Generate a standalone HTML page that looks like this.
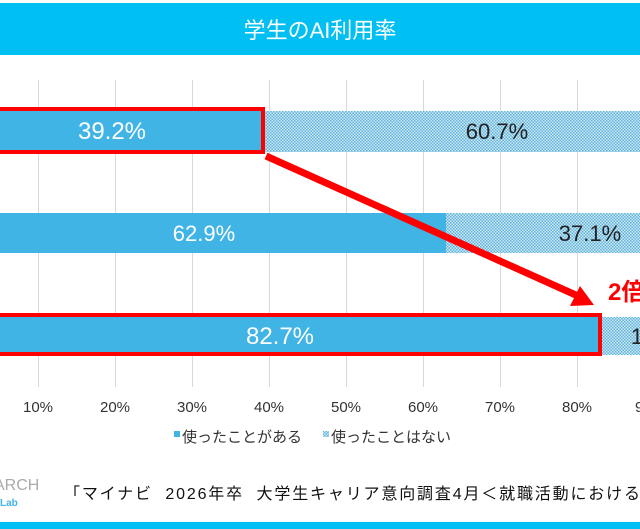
<!DOCTYPE html>
<html><head><meta charset="utf-8"><style>
body{margin:0;width:640px;height:529px;background:#fff;overflow:hidden;position:relative;font-family:"Liberation Sans","Noto Sans CJK JP",sans-serif}
.a{position:absolute}
</style></head><body>
<svg class="a" style="left:0;top:0" width="640" height="529" xmlns="http://www.w3.org/2000/svg">
<defs>
<pattern id="h" width="3" height="3" patternUnits="userSpaceOnUse">
<rect width="3" height="3" fill="#cfe8f4"/><rect width="1.5" height="1.5" fill="#5fb3dc"/><rect x="1.5" y="1.5" width="1.5" height="1.5" fill="#5fb3dc"/>
</pattern>
</defs>
<rect x="0" y="3" width="640" height="52" fill="#00bff3"/>
<text x="320" y="38" fill="#fff" font-size="22" text-anchor="middle">学生のAI利用率</text>
<g stroke="#d9d9d9" stroke-width="1">
<line x1="38.5" y1="80" x2="38.5" y2="387"/><line x1="115.5" y1="80" x2="115.5" y2="387"/><line x1="192.5" y1="80" x2="192.5" y2="387"/><line x1="269.5" y1="80" x2="269.5" y2="387"/><line x1="346.5" y1="80" x2="346.5" y2="387"/><line x1="423.5" y1="80" x2="423.5" y2="387"/><line x1="500.5" y1="80" x2="500.5" y2="387"/><line x1="577.5" y1="80" x2="577.5" y2="387"/>
</g>
<rect x="0" y="111" width="263" height="41" fill="#41b4e6"/><rect x="263" y="111" width="377" height="41" fill="url(#h)"/>
<rect x="0" y="213" width="446" height="40" fill="#41b4e6"/><rect x="446" y="213" width="194" height="40" fill="url(#h)"/>
<rect x="0" y="317" width="600" height="38" fill="#41b4e6"/><rect x="600" y="317" width="40" height="38" fill="url(#h)"/>
<rect x="-5" y="109" width="268" height="43" fill="none" stroke="#f00" stroke-width="4"/>
<rect x="-5" y="315" width="605" height="39" fill="none" stroke="#f00" stroke-width="4"/>
<line x1="266" y1="156" x2="578" y2="296" stroke="#f00" stroke-width="7"/>
<polygon points="594,305 570,306 580,286" fill="#f00"/>
<g font-size="22" text-anchor="middle">
<text x="112" y="139" fill="#fff" font-size="24">39.2%</text>
<text x="497" y="139" fill="#222">60.7%</text>
<text x="204" y="241" fill="#fff">62.9%</text>
<text x="590" y="241" fill="#222">37.1%</text>
<text x="280" y="344" fill="#fff" font-size="24">82.7%</text>
<text x="637" y="344" fill="#222">1</text>
</g>
<text x="608" y="300" fill="#f00" font-size="24" font-weight="bold">2倍</text>
<g font-size="15" fill="#333" text-anchor="middle">
<text x="38" y="412">10%</text><text x="115" y="412">20%</text><text x="192" y="412">30%</text><text x="269" y="412">40%</text><text x="346" y="412">50%</text><text x="423" y="412">60%</text><text x="500" y="412">70%</text><text x="577" y="412">80%</text><text x="650" y="412">90%</text>
</g>
<rect x="174" y="431" width="6" height="6" fill="#41b4e6"/>
<text x="182" y="442" font-size="15" fill="#333">使ったことがある</text>
<rect x="323" y="431" width="6" height="6" fill="url(#h)"/>
<text x="331" y="442" font-size="15" fill="#333">使ったことはない</text>
<text x="-6" y="490" font-size="16" fill="#aaa">ARCH</text>
<text x="0" y="506" font-size="10" font-weight="bold" fill="#41b4e6">Lab</text>
<text x="64" y="499" font-size="16" fill="#111" xml:space="preserve" textLength="576" lengthAdjust="spacing">「マイナビ  2026年卒  大学生キャリア意向調査4月＜就職活動における</text>
<rect x="0" y="522" width="640" height="7" fill="#00bff3"/>
</svg>
</body></html>
